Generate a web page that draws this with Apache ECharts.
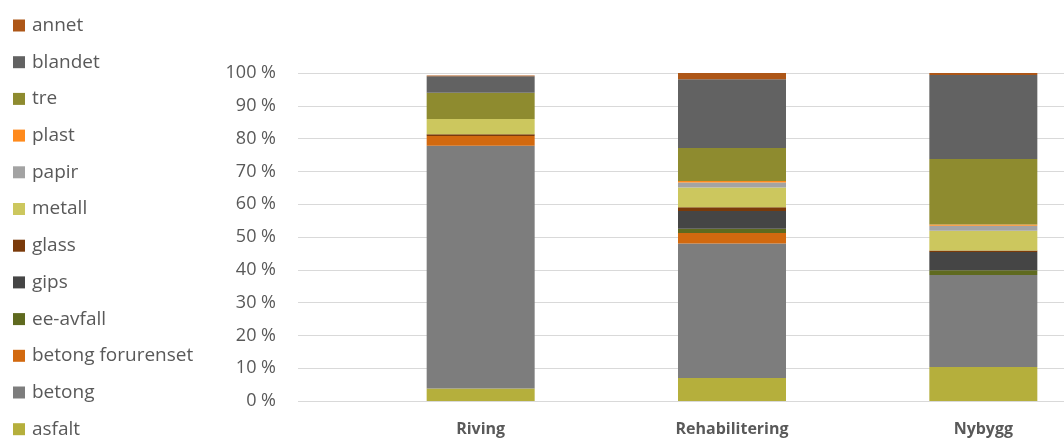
<!DOCTYPE html>
<html><head><meta charset="utf-8">
<script src="https://cdn.jsdelivr.net/npm/echarts@6/dist/echarts.min.js"></script>
<style>html,body{margin:0;padding:0;background:#fff}#c{width:1064px;height:439px}</style>
</head><body><div id="c"></div>
<script>
var categories = ['Riving', 'Rehabilitering', 'Nybygg'];
var yTicks = [0, 10, 20, 30, 40, 50, 60, 70, 80, 90, 100];
var asfalt = [3.8, 7.0, 10.4];
var betong = [74.0, 41.0, 28.0];
var betongForurenset = [3.0, 3.2, 0];
var eeAvfall = [0, 1.3, 1.5];
var gips = [0, 5.4, 5.5];
var glass = [0.5, 1.2, 0.5];
var metall = [4.7, 6.0, 6.0];
var papir = [0, 1.5, 1.5];
var plast = [0, 0.5, 0.4];
var tre = [8.0, 10.0, 20.0];
var blandet = [5.0, 21.0, 25.6];
var annet = [0.2, 2.0, 0.6];
var seriesNames = ['asfalt','betong','betong forurenset','ee-avfall','gips','glass','metall','papir','plast','tre','blandet','annet'];
var seriesData = [asfalt, betong, betongForurenset, eeAvfall, gips, glass, metall, papir, plast, tre, blandet, annet];
var seriesColors = ['#B5AF3C','#7D7D7D','#D2690F','#5F6A1F','#454545','#7A3A0A','#CCC75E','#A3A3A3','#FF8A1C','#8E8B2F','#626262','#AD5617'];

var chart = echarts.init(document.getElementById('c'));
var series = seriesNames.map(function(n, i){
  return {name: n, type: 'bar', stack: 'all', xAxisIndex: 0, yAxisIndex: 0,
    barWidth: 108, data: seriesData[i], itemStyle: {color: seriesColors[i]}};
});
var textCol = '#595959';
chart.setOption({
  animation: false,
  backgroundColor: '#fff',
  legend: {
    orient: 'vertical', left: 13, top: 16, height: 425, padding: 0, itemGap: 17.7,
    itemWidth: 12, itemHeight: 12, icon: 'rect',
    data: seriesNames.slice().reverse(),
    textStyle: {color: textCol, fontSize: 19, lineHeight: 19, fontFamily: 'Open Sans', padding: [0,0,0,2]}
  },
  grid: [
    {left: 355, width: 754, top: 73, bottom: 38, outerBoundsMode: 'none', containLabel: false},
    {left: 298, width: 57, top: 73, bottom: 38, outerBoundsMode: 'none', containLabel: false}
  ],
  xAxis: [
    {type: 'category', gridIndex: 0, data: categories,
      axisLine: {show: false}, axisTick: {show: false},
      axisLabel: {color: textCol, fontSize: 16, fontWeight: 'bold', fontFamily: 'Open Sans', margin: 20}},
    {type: 'category', gridIndex: 1, data: [''], show: false}
  ],
  yAxis: [
    {type: 'value', gridIndex: 0, min: 0, max: 100, interval: 10,
      axisLabel: {show: false}, axisLine: {show: false}, axisTick: {show: false},
      splitLine: {lineStyle: {color: '#D9D9D9', width: 1}}},
    {type: 'value', gridIndex: 1, min: 0, max: 100, interval: 10,
      axisLabel: {color: textCol, fontSize: 18, fontFamily: 'Open Sans', margin: 22,
        formatter: function(v){ return v + ' %'; }},
      axisLine: {show: false}, axisTick: {show: false},
      splitLine: {lineStyle: {color: '#D9D9D9', width: 1}}}
  ],
  series: series
});
</script></body></html>
